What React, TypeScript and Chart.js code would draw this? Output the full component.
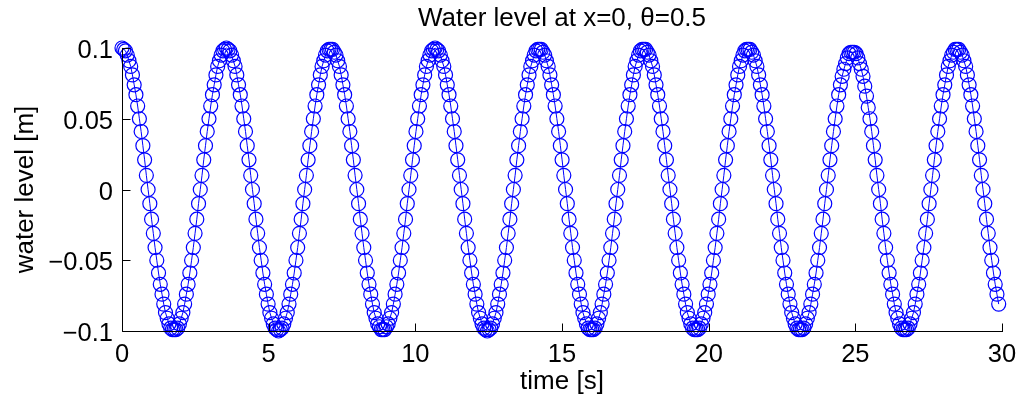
import { useEffect, useRef } from 'react';
import { Chart, registerables } from 'chart.js';

Chart.register(...registerables);

const chartTitle = 'Water level at x=0, θ=0.5';
const xAxisTitle = 'time [s]';
const yAxisTitle = 'water level [m]';
const xTickValues = [0, 5, 10, 15, 20, 25, 30];
const yTickValues = [-0.1, -0.05, 0, 0.05, 0.1];
const yTickLabels = ['−0.1', '−0.05', '0', '0.05', '0.1'];
const sampleInterval = 0.0593; // seconds between stored samples

// water level at x=0 [m], one value per stored sample, starting at t = 0
const waterLevel = [
  // cycle 0
  0.100, 0.099, 0.098, 0.095, 0.091, 0.087, 0.081, 0.074, 0.067, 0.059, 0.050, 0.041, 0.031, 0.021, 0.010, 0.000, -0.010, -0.021, -0.031, -0.041, -0.050, -0.059, -0.067, -0.074, -0.081, -0.087, -0.091, -0.095, -0.098, -0.099,
  -0.099, -0.099, -0.098, -0.095, -0.091, -0.087, -0.081, -0.074, -0.067, -0.059, -0.050, -0.041, -0.031, -0.021, -0.010, 0.000, 0.010, 0.021, 0.031, 0.041, 0.050, 0.059, 0.067, 0.074, 0.081, 0.087, 0.091, 0.095, 0.098, 0.099,
  // cycle 1
  0.100, 0.099, 0.098, 0.095, 0.091, 0.087, 0.081, 0.074, 0.067, 0.059, 0.050, 0.041, 0.031, 0.021, 0.010, 0.000, -0.010, -0.021, -0.031, -0.041, -0.050, -0.059, -0.067, -0.074, -0.081, -0.087, -0.091, -0.095, -0.098, -0.099,
  -0.100, -0.099, -0.098, -0.095, -0.091, -0.087, -0.081, -0.074, -0.067, -0.059, -0.050, -0.041, -0.031, -0.021, -0.010, 0.000, 0.010, 0.021, 0.031, 0.041, 0.050, 0.059, 0.067, 0.074, 0.081, 0.087, 0.091, 0.095, 0.098, 0.099,
  // cycle 2
  0.099, 0.099, 0.097, 0.095, 0.091, 0.087, 0.081, 0.074, 0.067, 0.059, 0.050, 0.041, 0.031, 0.021, 0.010, 0.000, -0.010, -0.021, -0.031, -0.041, -0.050, -0.059, -0.067, -0.074, -0.081, -0.087, -0.091, -0.095, -0.097, -0.099,
  -0.099, -0.099, -0.097, -0.095, -0.091, -0.087, -0.081, -0.074, -0.067, -0.059, -0.050, -0.041, -0.031, -0.021, -0.010, 0.000, 0.010, 0.021, 0.031, 0.041, 0.050, 0.059, 0.067, 0.074, 0.081, 0.087, 0.091, 0.095, 0.098, 0.099,
  // cycle 3
  0.100, 0.099, 0.098, 0.095, 0.091, 0.087, 0.081, 0.074, 0.067, 0.059, 0.050, 0.041, 0.031, 0.021, 0.010, 0.000, -0.010, -0.021, -0.031, -0.041, -0.050, -0.059, -0.067, -0.074, -0.081, -0.087, -0.091, -0.095, -0.098, -0.099,
  -0.100, -0.099, -0.098, -0.095, -0.091, -0.087, -0.081, -0.074, -0.067, -0.059, -0.050, -0.041, -0.031, -0.021, -0.010, 0.000, 0.010, 0.021, 0.031, 0.041, 0.050, 0.059, 0.067, 0.074, 0.081, 0.087, 0.091, 0.095, 0.098, 0.099,
  // cycle 4
  0.099, 0.099, 0.097, 0.095, 0.091, 0.087, 0.081, 0.074, 0.067, 0.059, 0.050, 0.041, 0.031, 0.021, 0.010, 0.000, -0.010, -0.021, -0.031, -0.041, -0.050, -0.059, -0.067, -0.074, -0.081, -0.087, -0.091, -0.095, -0.098, -0.099,
  -0.099, -0.099, -0.098, -0.095, -0.091, -0.087, -0.081, -0.074, -0.067, -0.059, -0.050, -0.041, -0.031, -0.021, -0.010, 0.000, 0.010, 0.021, 0.031, 0.041, 0.050, 0.059, 0.067, 0.074, 0.081, 0.087, 0.091, 0.095, 0.098, 0.099,
  // cycle 5
  0.099, 0.099, 0.097, 0.095, 0.091, 0.087, 0.081, 0.074, 0.067, 0.059, 0.050, 0.041, 0.031, 0.021, 0.010, 0.000, -0.010, -0.021, -0.031, -0.041, -0.050, -0.059, -0.067, -0.074, -0.081, -0.087, -0.091, -0.095, -0.098, -0.099,
  -0.099, -0.099, -0.098, -0.095, -0.091, -0.087, -0.081, -0.074, -0.067, -0.059, -0.050, -0.041, -0.031, -0.021, -0.010, 0.000, 0.010, 0.021, 0.031, 0.041, 0.050, 0.059, 0.067, 0.074, 0.081, 0.087, 0.091, 0.095, 0.098, 0.099,
  // cycle 6
  0.099, 0.099, 0.097, 0.095, 0.091, 0.087, 0.081, 0.074, 0.067, 0.059, 0.050, 0.041, 0.031, 0.021, 0.010, 0.000, -0.010, -0.021, -0.031, -0.041, -0.050, -0.059, -0.067, -0.074, -0.081, -0.087, -0.091, -0.095, -0.098, -0.099,
  -0.099, -0.099, -0.098, -0.095, -0.091, -0.087, -0.081, -0.074, -0.067, -0.059, -0.050, -0.041, -0.031, -0.021, -0.010, 0.000, 0.010, 0.021, 0.031, 0.041, 0.050, 0.059, 0.067, 0.074, 0.080, 0.085, 0.089, 0.093, 0.096, 0.097,
  // cycle 7
  0.097, 0.097, 0.096, 0.093, 0.089, 0.085, 0.080, 0.073, 0.066, 0.058, 0.050, 0.041, 0.031, 0.021, 0.010, 0.000, -0.010, -0.021, -0.031, -0.041, -0.050, -0.059, -0.067, -0.074, -0.081, -0.087, -0.091, -0.095, -0.098, -0.099,
  -0.099, -0.099, -0.098, -0.095, -0.091, -0.087, -0.081, -0.074, -0.067, -0.059, -0.050, -0.041, -0.031, -0.021, -0.010, 0.000, 0.010, 0.021, 0.031, 0.041, 0.050, 0.059, 0.067, 0.074, 0.081, 0.087, 0.091, 0.095, 0.097, 0.099,
  // cycle 8 (partial)
  0.099, 0.099, 0.097, 0.095, 0.091, 0.087, 0.081, 0.074, 0.067, 0.059, 0.050, 0.041, 0.031, 0.021, 0.010, 0.000, -0.010, -0.021, -0.031, -0.041, -0.050, -0.059, -0.067, -0.074, -0.081,
];

const FONT = '"Liberation Sans", Arial, Helvetica, sans-serif';

const axesPlugin = {
  id: 'matlabAxes',
  afterDatasetsDraw(chart: any) {
    const { ctx, chartArea, scales } = chart;
    const { left, right, top, bottom } = chartArea;
    const xs = scales.x;
    const ys = scales.y;
    ctx.save();
    ctx.strokeStyle = '#000';
    ctx.lineWidth = 1;
    ctx.beginPath();
    const lx = Math.round(left) + 0.5;
    const by = Math.round(bottom) + 0.5;
    ctx.moveTo(lx, Math.round(top));
    ctx.lineTo(lx, by);
    ctx.lineTo(Math.round(right) + 1, by);
    xs.ticks.forEach((t: any) => {
      const px = Math.round(xs.getPixelForValue(t.value)) + 0.5;
      ctx.moveTo(px, by);
      ctx.lineTo(px, by - 8);
    });
    ys.ticks.forEach((t: any) => {
      const py = Math.round(ys.getPixelForValue(t.value)) + 0.5;
      ctx.moveTo(lx, py);
      ctx.lineTo(lx + 8, py);
    });
    ctx.stroke();
    ctx.fillStyle = '#000';
    ctx.font = `26px ${FONT}`;
    ctx.textAlign = 'center';
    ctx.textBaseline = 'alphabetic';
    ctx.fillText(chartTitle, (left + right) / 2, 26);
    ctx.restore();
  },
};

export default function App() {
  const canvasRef = useRef<HTMLCanvasElement | null>(null);

  useEffect(() => {
    const canvas = canvasRef.current;
    if (!canvas) return;
    const points = waterLevel.map((v, i) => ({ x: i * sampleInterval, y: v }));
    const chart = new Chart(canvas, {
      type: 'scatter',
      data: {
        datasets: [
          {
            label: 'water level',
            data: points,
            showLine: true,
            borderColor: '#0000ff',
            borderWidth: 1,
            pointStyle: 'circle',
            pointRadius: 7,
            pointBorderWidth: 1.2,
            pointBorderColor: '#0000ff',
            pointBackgroundColor: 'rgba(0,0,0,0)',
            clip: false as any,
          },
        ],
      },
      options: {
        responsive: false,
        animation: false,
        layout: { padding: { top: 48, right: 14, left: 0, bottom: 0 } },
        plugins: {
          legend: { display: false },
          title: { display: false },
          tooltip: { enabled: false },
        },
        scales: {
          x: {
            type: 'linear',
            min: 0,
            max: 30,
            afterBuildTicks: (s: any) => {
              s.ticks = xTickValues.map((v) => ({ value: v }));
            },
            afterFit: (s: any) => {
              s.height = 73;
              s.paddingLeft = 0;
              s.paddingRight = 0;
            },
            grid: { display: false, drawTicks: false },
            border: { display: false },
            ticks: {
              color: '#000',
              font: { family: FONT, size: 25.5 },
              padding: 9,
              maxRotation: 0,
              autoSkip: false,
              callback: (v: any) => String(v),
            },
            title: {
              display: true,
              text: xAxisTitle,
              color: '#000',
              font: { family: FONT, size: 26 },
              padding: { top: 0, bottom: 7 },
            },
          },
          y: {
            type: 'linear',
            min: -0.1,
            max: 0.1,
            afterBuildTicks: (s: any) => {
              s.ticks = yTickValues.map((v) => ({ value: v }));
            },
            afterFit: (s: any) => {
              s.width = 122;
              s.paddingTop = 0;
              s.paddingBottom = 0;
            },
            grid: { display: false, drawTicks: false },
            border: { display: false },
            ticks: {
              color: '#000',
              font: { family: FONT, size: 25.5 },
              padding: 9,
              labelOffset: 3,
              autoSkip: false,
              callback: (v: any) => {
                const idx = yTickValues.findIndex((t) => Math.abs(t - Number(v)) < 1e-9);
                return idx >= 0 ? yTickLabels[idx] : '';
              },
            },
            title: {
              display: true,
              text: yAxisTitle,
              color: '#000',
              font: { family: FONT, size: 26 },
              padding: { top: 10, bottom: 0 },
            },
          },
        },
      },
      plugins: [axesPlugin],
    });
    return () => chart.destroy();
  }, []);

  return (
    <div style={{ position: 'absolute', left: 0, top: 0, width: 1016, height: 404, background: '#fff' }}>
      <canvas ref={canvasRef} width={1016} height={404} />
    </div>
  );
}
